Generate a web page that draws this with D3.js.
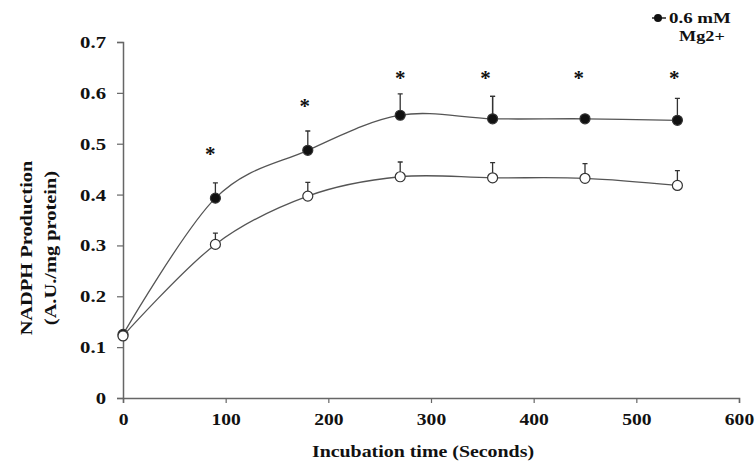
<!DOCTYPE html>
<html>
<head>
  <style>
    body { margin: 0; background: #fff; }
    text { font-family: "Liberation Serif", "Times New Roman", serif; font-weight: bold; fill: #111; }
  </style>
</head>
<body>
  <div id="chart"></div>
  <script src="https://d3js.org/d3.v7.min.js"></script>
  <script>
  // data
  var times = [0, 90, 180, 270, 360, 450, 540];
  var mgMean = [0.125, 0.393, 0.487, 0.556, 0.549, 0.549, 0.546];
  var mgUpper = [0.125, 0.423, 0.525, 0.598, 0.593, 0.593, 0.589];
  var ctrlMean = [0.122, 0.302, 0.397, 0.435, 0.433, 0.432, 0.418];
  var ctrlUpper = [0.122, 0.324, 0.424, 0.464, 0.463, 0.461, 0.447];
  // significance stars (x in seconds, y as axis value of the star centre)
  var starX = [85, 177, 270, 353, 444, 537];
  var starY = [0.483, 0.578, 0.633, 0.633, 0.633, 0.633];
  var xTicks = [0, 100, 200, 300, 400, 500, 600];
  var yTicks = [0, 0.1, 0.2, 0.3, 0.4, 0.5, 0.6, 0.7];
  var legendLabel = ["0.6 mM", "Mg2+"];

  var width = 756, height = 468;
  var margin = {top: 42, right: 17, bottom: 70, left: 123};

  var svg = d3.select("#chart").append("svg")
      .attr("width", width)
      .attr("height", height);

  var x = d3.scaleLinear().domain([0, 600]).range([margin.left, width - margin.right]);
  var y = d3.scaleLinear().domain([0, 0.7]).range([height - margin.bottom, margin.top]);

  // the original font is wider than Times, so stretch texts a bit
  function widen(sel, f) {
    sel.each(function() {
      var len = this.getComputedTextLength();
      d3.select(this).attr("textLength", len * f).attr("lengthAdjust", "spacingAndGlyphs");
    });
  }

  var axisColor = "#666";

  // x axis
  var gx = svg.append("g")
      .attr("transform", "translate(0," + y(0) + ")")
      .call(d3.axisBottom(x).tickValues(xTicks).tickSize(5).tickPadding(10).tickFormat(d3.format("d")));
  gx.select(".domain").attr("stroke", axisColor).attr("stroke-width", 1.5);
  gx.selectAll(".tick line").attr("stroke", axisColor).attr("stroke-width", 1.2);
  gx.selectAll(".tick text").attr("font-size", 17).attr("font-family", null).attr("fill", null);
  widen(gx.selectAll(".tick text"), 1.15);

  // y axis
  var gy = svg.append("g")
      .attr("transform", "translate(" + x(0) + ",0)")
      .call(d3.axisLeft(y).tickValues(yTicks).tickSize(6).tickPadding(11)
        .tickFormat(function(d) { return d === 0 ? "0" : d3.format(".1f")(d); }));
  gy.select(".domain").attr("stroke", axisColor).attr("stroke-width", 1.5);
  gy.selectAll(".tick line").attr("stroke", axisColor).attr("stroke-width", 1.2);
  gy.selectAll(".tick text").attr("font-size", 17).attr("font-family", null).attr("fill", null);
  widen(gy.selectAll(".tick text"), 1.22);

  // axis titles
  var xt = svg.append("text")
      .attr("x", 423).attr("y", 457)
      .attr("text-anchor", "middle")
      .attr("font-size", 17)
      .text("Incubation time (Seconds)");
  widen(xt, 1.17);

  var yt = svg.append("g").attr("transform", "translate(0,248) rotate(-90)");
  var yt1 = yt.append("text").attr("x", 0).attr("y", 32).attr("text-anchor", "middle")
      .attr("font-size", 17).text("NADPH Production");
  var yt2 = yt.append("text").attr("x", 0).attr("y", 56).attr("text-anchor", "middle")
      .attr("font-size", 17).text("(A.U./mg protein)");
  widen(yt1, 1.2);
  widen(yt2, 1.2);

  var lineColor = "#555";
  var line = d3.line()
      .x(function(d, i) { return x(times[i]); })
      .y(function(d) { return y(d); })
      .curve(d3.curveCatmullRom.alpha(0));

  function drawSeries(mean, upper, filled) {
    var g = svg.append("g");
    // upper error bars
    g.selectAll(".err").data(mean).enter().filter(function(d, i) { return upper[i] > d; })
      .append("path")
      .attr("d", function(d) {
        var i = mean.indexOf(d);
        var cx = x(times[i]);
        return "M" + cx + "," + y(d) + "V" + y(upper[i]) + "M" + (cx - 2.5) + "," + y(upper[i]) + "H" + (cx + 2.5);
      })
      .attr("stroke", "#333").attr("stroke-width", 1.3).attr("fill", "none");
    g.append("path")
      .datum(mean)
      .attr("d", line)
      .attr("fill", "none")
      .attr("stroke", lineColor)
      .attr("stroke-width", 1.3);
    g.selectAll("circle").data(mean).enter().append("circle")
      .attr("cx", function(d, i) { return x(times[i]); })
      .attr("cy", function(d) { return y(d); })
      .attr("r", 5)
      .attr("fill", filled ? "#111" : "#fff")
      .attr("stroke", "#333")
      .attr("stroke-width", 1.2);
  }

  drawSeries(mgMean, mgUpper, true);
  drawSeries(ctrlMean, ctrlUpper, false);

  // stars
  svg.selectAll(".star").data(starX).enter().append("text")
      .attr("class", "star")
      .attr("x", function(d) { return x(d); })
      .attr("y", function(d, i) { return y(starY[i]); })
      .attr("dy", "0.42em")
      .attr("text-anchor", "middle")
      .attr("font-size", 21)
      .text("*");

  // legend
  var lg = svg.append("g");
  lg.append("line").attr("x1", 652).attr("x2", 666).attr("y1", 18).attr("y2", 18)
      .attr("stroke", "#222").attr("stroke-width", 1.5);
  lg.append("circle").attr("cx", 658).attr("cy", 18).attr("r", 4).attr("fill", "#111");
  var l1 = lg.append("text").attr("x", 669).attr("y", 23).attr("font-size", 14).text(legendLabel[0]);
  var l2 = lg.append("text").attr("x", 679).attr("y", 41).attr("font-size", 14).text(legendLabel[1]);
  widen(l1, 1.35);
  widen(l2, 1.3);
  </script>
</body>
</html>
